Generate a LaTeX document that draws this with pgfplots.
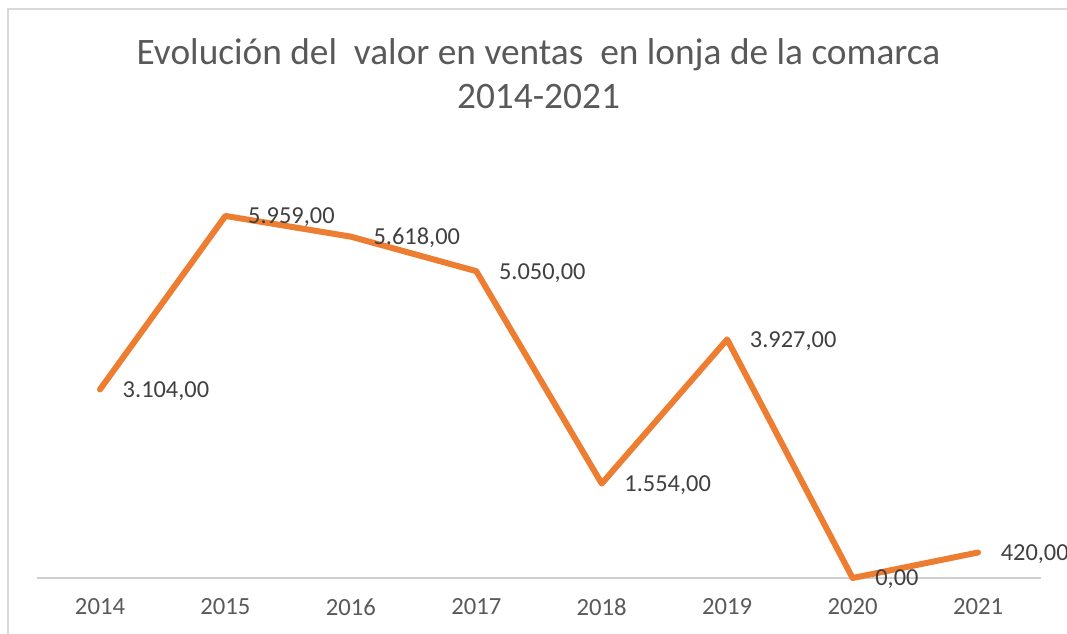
\documentclass[border=0pt]{standalone}
\usepackage{fontspec}
\setmainfont{Carlito}
\usepackage{pgfplots}
\pgfplotsset{compat=1.18}
\definecolor{lineorange}{HTML}{ED7D31}
\definecolor{titlegray}{HTML}{595959}
\definecolor{labelgray}{HTML}{404040}
\definecolor{framegray}{HTML}{D9D9D9}
\begin{document}
\begin{tikzpicture}[x=0.75pt,y=0.75pt]
% picture area 1067 x 633 px (y upwards, pixel row r -> 633-r)
\path[use as bounding box] (0,0) rectangle (1067,633);
\draw[framegray,line width=1.1pt] (8,-10) -- (8,624) -- (1070,624);
\node[titlegray,anchor=base,inner sep=0pt,font=\fontsize{28pt}{33pt}\selectfont] at (538.5,568) {Evolución del\ \ valor en ventas\ \ en lonja de la comarca};
\node[titlegray,anchor=base,inner sep=0pt,font=\fontsize{28pt}{33pt}\selectfont] at (538.5,524) {2014-2021};
\begin{axis}[
  at={(75pt,41.25pt)}, anchor=origin,
  scale only axis,
  width=752.6pt, height=319pt,
  xmin=-0.5, xmax=7.5, ymin=0, ymax=7000,
  axis line style={draw=none},
  ytick=\empty,
  xtick={0,1,2,3,4,5,6,7},
  xticklabels={2014,2015,2016,2017,2018,2019,2020,2021},
  major tick length=0pt,
  xticklabel style={anchor=center, inner sep=0pt, yshift=-21.75pt, font=\fontsize{18.5pt}{20pt}\selectfont, text=titlegray},
  clip=false,
  nodes near coords,
  every node near coord/.append style={anchor=west, inner sep=0pt, xshift=14.8pt, text depth=0pt, font=\fontsize{18.3pt}{20pt}\selectfont, text=labelgray},
  /pgf/number format/.cd, fixed, fixed zerofill, precision=2, use comma, 1000 sep={.}, assume math mode=true,
]
\draw[framegray!90!gray, line width=1.1pt] (axis cs:-0.5,0) -- (axis cs:7.5,0);
\addplot[lineorange, line width=4.5pt, line cap=round, line join=round, mark=none] coordinates {
(0,3104) (1,5959) (2,5618) (3,5050) (4,1554) (5,3927) (6,0) (7,420)
};
\end{axis}
\end{tikzpicture}
\end{document}
